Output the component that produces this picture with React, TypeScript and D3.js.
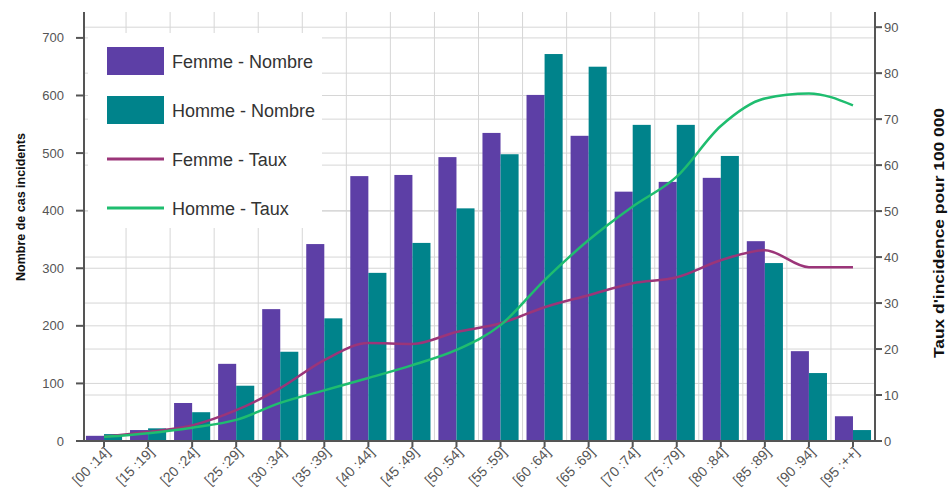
import React from "react";
import * as d3 from "d3";

// age groups
const categories = [
  "[00 :14]", "[15 :19]", "[20 :24]", "[25 :29]", "[30 :34]", "[35 :39]",
  "[40 :44]", "[45 :49]", "[50 :54]", "[55 :59]", "[60 :64]", "[65 :69]",
  "[70 :74]", "[75 :79]", "[80 :84]", "[85 :89]", "[90 :94]", "[95 :++]",
];

// number of cases (left axis)
const femmeNombre = [9, 19, 66, 134, 229, 342, 460, 462, 493, 535, 601, 530, 433, 450, 457, 347, 156, 43];
const hommeNombre = [12, 22, 50, 96, 155, 213, 292, 344, 404, 498, 672, 650, 549, 549, 495, 309, 118, 19];

// incidence rate per 100 000 (right axis)
const femmeTaux = [0.9, 2, 3.4, 6.7, 11.5, 17.6, 21.3, 21.1, 23.7, 25.6, 29.1, 31.7, 34.3, 35.6, 39.3, 41.5, 37.8, 37.8];
const hommeTaux = [0.9, 1.7, 2.9, 4.6, 8.3, 11, 13.7, 16.5, 19.8, 25.2, 35, 43.7, 51, 57.5, 68.5, 74.5, 75.6, 73];

const leftTicks = [0, 100, 200, 300, 400, 500, 600, 700];
const rightTicks = [0, 10, 20, 30, 40, 50, 60, 70, 80, 90];

const W = 950;
const H = 500;
const left = 84;
const right = 875;
const top = 12;
const bottom = 441;

const purple = "#5d3fa6";
const teal = "#00838b";
const femmeLine = "#9b3579";
const hommeLine = "#1fbd6f";
const font = "Arial, 'Liberation Sans', sans-serif";

export default function App() {
  const x = d3.scaleBand().domain(categories).range([82, right]).paddingInner(0.18).paddingOuter(0.09);
  const x1 = d3.scaleBand().domain(["F", "H"]).range([0, x.bandwidth()]);
  const yL = d3.scaleLinear().domain([0, 745]).range([bottom, top]);
  const yR = d3.scaleLinear().domain([0, 93.3]).range([bottom, top]);

  const step = x.step();
  const gap = (step - x.bandwidth()) / 2;
  const center = (c: string) => (x(c) as number) + x.bandwidth() / 2;

  const line = d3
    .line<number>()
    .x((d, i) => center(categories[i]))
    .y((d) => yR(d))
    .curve(d3.curveMonotoneX);

  const gridColor = "#d6d6d6";
  const axisColor = "#555";

  return (
    <svg width={W} height={H} style={{ position: "absolute", left: 0, top: 0, background: "#fff" }} fontFamily={font}>
      {/* gridlines */}
      <g stroke={gridColor} strokeWidth={1}>
        {categories.slice(1).map((c) => (
          <line key={c} x1={(x(c) as number) - gap} x2={(x(c) as number) - gap} y1={top} y2={bottom} />
        ))}
        {leftTicks.slice(1).map((t) => (
          <line key={"l" + t} x1={left} x2={right} y1={yL(t)} y2={yL(t)} />
        ))}
        {rightTicks.slice(1).map((t) => (
          <line key={"r" + t} x1={left} x2={right} y1={yR(t)} y2={yR(t)} />
        ))}
      </g>

      {/* bars */}
      {categories.map((c, i) => (
        <g key={c} transform={`translate(${x(c)},0)`}>
          <rect x={x1("F")} width={x1.bandwidth()} y={yL(femmeNombre[i])} height={bottom - yL(femmeNombre[i])} fill={purple} />
          <rect x={x1("H")} width={x1.bandwidth()} y={yL(hommeNombre[i])} height={bottom - yL(hommeNombre[i])} fill={teal} />
        </g>
      ))}

      {/* rate lines */}
      <path d={line(femmeTaux) || ""} fill="none" stroke={femmeLine} strokeWidth={2.5} />
      <path d={line(hommeTaux) || ""} fill="none" stroke={hommeLine} strokeWidth={2.5} />

      {/* legend */}
      <rect x={88} y={33} width={234} height={195} fill="#fff" />
      <rect x={107} y={47} width={57} height={28} fill={purple} />
      <rect x={107} y={96} width={57} height={28} fill={teal} />
      <line x1={107} x2={164} y1={159} y2={159} stroke={femmeLine} strokeWidth={3} />
      <line x1={107} x2={164} y1={208} y2={208} stroke={hommeLine} strokeWidth={3} />
      <g fontSize={18} fill="#333">
        <text x={172} y={68}>Femme - Nombre</text>
        <text x={172} y={117}>Homme - Nombre</text>
        <text x={172} y={166}>Femme - Taux</text>
        <text x={172} y={215}>Homme - Taux</text>
      </g>

      {/* axes */}
      <g stroke={axisColor} strokeWidth={2}>
        <line x1={left} x2={left} y1={top} y2={bottom} />
        <line x1={right} x2={right} y1={top} y2={bottom} />
        <line x1={left - 8} x2={right} y1={bottom} y2={bottom} />
        {leftTicks.map((t) => (
          <line key={"lt" + t} x1={left - 8} x2={left} y1={yL(t)} y2={yL(t)} />
        ))}
        {rightTicks.map((t) => (
          <line key={"rt" + t} x1={right} x2={right + 7} y1={yR(t)} y2={yR(t)} />
        ))}
        {categories.map((c) => (
          <line key={"xt" + c} x1={center(c)} x2={center(c)} y1={bottom} y2={bottom + 6} />
        ))}
      </g>

      <g fontSize={13} fill="#555">
        {leftTicks.map((t) => (
          <text key={"ll" + t} x={64} y={yL(t)} dy="0.35em" textAnchor="end">{t}</text>
        ))}
        {rightTicks.map((t) => (
          <text key={"rl" + t} x={884} y={yR(t)} dy="0.35em">{t}</text>
        ))}
        {categories.map((c) => (
          <text key={"xl" + c} transform={`translate(${center(c) + 7},${bottom + 12}) rotate(-45)`} textAnchor="end" fontSize={14}>
            {c}
          </text>
        ))}
      </g>

      {/* axis titles */}
      <text transform={`translate(25,207) rotate(-90)`} textAnchor="middle" fontSize={12.5} fontWeight="bold" fill="#111">
        Nombre de cas incidents
      </text>
      <text transform={`translate(944,233) rotate(-90)`} textAnchor="middle" fontSize={14} fontWeight="bold" fill="#111" textLength={250} lengthAdjust="spacingAndGlyphs">
        Taux d'incidence pour 100 000
      </text>
    </svg>
  );
}
